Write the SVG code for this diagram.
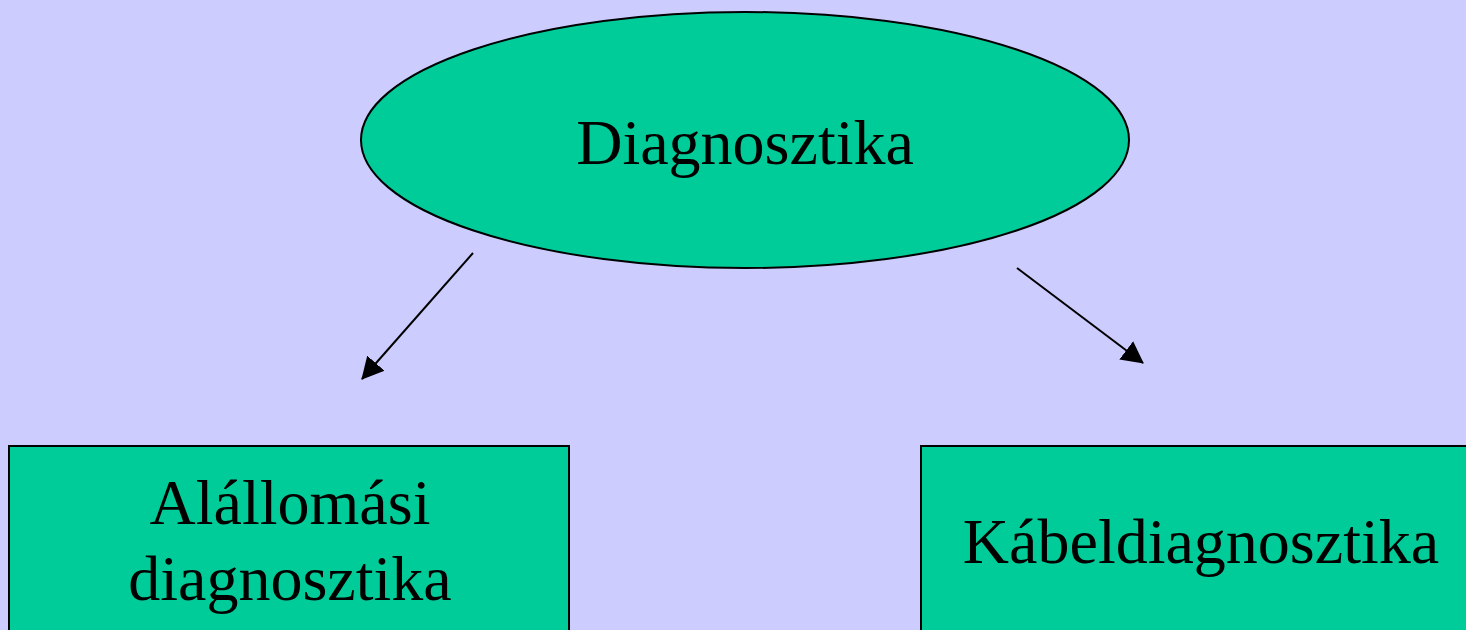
<svg xmlns="http://www.w3.org/2000/svg" width="1466" height="630" viewBox="0 0 1466 630">
  <style>
    .shape { fill: #00CC99; stroke: #000000; stroke-width: 2; }
    .label { font-family: "Liberation Serif", "Times New Roman", serif; font-size: 64px; fill: #000000; text-anchor: middle; }
    .conn { stroke: #000000; stroke-width: 2; fill: none; }
  </style>
  <defs>
    <marker id="arrow" markerUnits="userSpaceOnUse" markerWidth="22" markerHeight="24" refX="21" refY="12" orient="auto">
      <path d="M0,0.5 L22,12 L0,23.5 z" fill="#000000"/>
    </marker>
  </defs>
  <rect x="0" y="0" width="1466" height="630" fill="#CCCCFF"/>
  <g id="node-diagnosztika">
    <ellipse class="shape" cx="745" cy="140" rx="384" ry="128"/>
    <text class="label" x="745" y="164">Diagnosztika</text>
  </g>
  <g id="node-alallomasi">
    <rect class="shape" x="9" y="446" width="560" height="200"/>
    <text class="label" x="290" y="524">Alállomási</text>
    <text class="label" x="290" y="600">diagnosztika</text>
  </g>
  <g id="node-kabel">
    <rect class="shape" x="921" y="446" width="560" height="200"/>
    <text class="label" x="1201" y="563">Kábeldiagnosztika</text>
  </g>
  <g id="connectors">
    <line class="conn" x1="473" y1="253" x2="362" y2="379" marker-end="url(#arrow)"/>
    <line class="conn" x1="1017" y1="268" x2="1143" y2="363" marker-end="url(#arrow)"/>
  </g>
</svg>
